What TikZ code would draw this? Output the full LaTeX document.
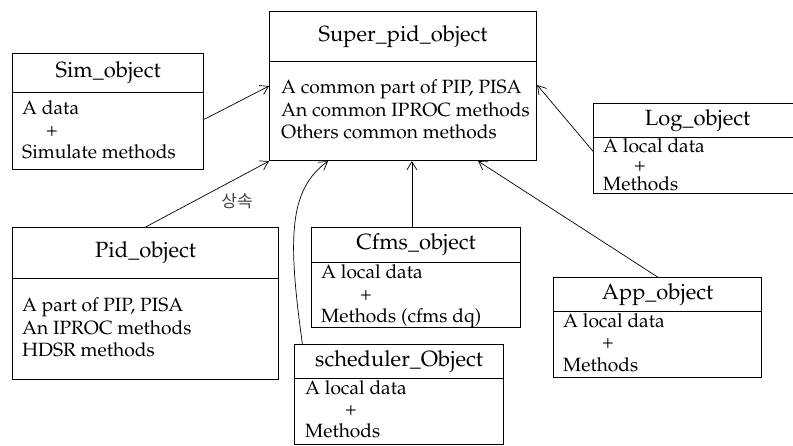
\documentclass[tikz,border=0pt]{standalone}
\usepackage{fontspec}
\newfontfamily\kor{Noto Sans CJK KR}
\usepackage[T1]{fontenc}
\usepackage{mathpazo}
\usetikzlibrary{arrows.meta,calc}
\begin{document}
\begin{tikzpicture}[x=1pt,y=-1pt,
  font=\fontsize{19.2}{22}\selectfont,
  boxpart/.style={draw,line width=1.2pt,rectangle,inner sep=0pt,anchor=north west},
  title/.style={boxpart,font=\fontsize{22}{24}\selectfont},
  line/.style={anchor=base west,inner sep=0pt},
  plus/.style={anchor=base,inner sep=0pt},
  conn/.style={line width=0.7pt,-{Straight Barb[length=8pt,width=10pt]}}]
\useasboundingbox (0,0) rectangle (793,446);
% Super
\node[title,minimum width=267pt,minimum height=50pt] (supert) at (269,11) {Super\_pid\_object};
\node[boxpart,minimum width=267pt,minimum height=99pt] (superb) at (269,61) {};
\node[line] (s1) at (281,94) {A common part of PIP, PISA};
\node[line] (s2) at (281,116.5) {An common IPROC methods};
\node[line] (s3) at (281,139) {Others common methods};
% Sim
\node[title,minimum width=191pt,minimum height=39pt] (simt) at (12,53) {Sim\_object};
\node[boxpart,minimum width=191pt,minimum height=77pt] (simb) at (12,92) {};
\node[line] (m1) at (22,115) {A data};
\node[plus] (m2) at (52,137) {+};
\node[line] (m3) at (22,159) {Simulate methods};
% Pid
\node[title,minimum width=266pt,minimum height=51pt] (pidt) at (12,227) {Pid\_object};
\node[boxpart,minimum width=266pt,minimum height=101pt] (pidb) at (12,278) {};
\node[line] (p1) at (22,312) {A part of PIP, PISA};
\node[line] (p2) at (22,334.5) {An IPROC methods};
\node[line] (p3) at (22,357) {HDSR methods};
% Cfms
\node[title,minimum width=209pt,minimum height=35pt] (cfmst) at (311,227) {Cfms\_object};
\node[boxpart,minimum width=209pt,minimum height=65pt] (cfmsb) at (311,262) {};
\node[line] (c1) at (321,279) {A local data};
\node[plus] (c2) at (366,301) {+};
\node[line] (c3) at (321,323) {Methods (cfms dq)};
% scheduler
\node[title,minimum width=209pt,minimum height=34pt] (schedt) at (294,344) {scheduler\_Object};
\node[boxpart,minimum width=209pt,minimum height=66pt] (schedb) at (294,378) {};
\node[line] (h1) at (305,395) {A local data};
\node[plus] (h2) at (351,416) {+};
\node[line] (h3) at (305,438) {Methods};
% Log
\node[title,minimum width=202pt,minimum height=34pt] (logt) at (593,103) {\hspace*{6pt}Log\_object};
\node[boxpart,minimum width=202pt,minimum height=56pt] (logb) at (593,137) {};
\node[line] (l1) at (603,153) {A local data};
\node[plus] (l2) at (640,172) {+};
\node[line] (l3) at (603,191) {Methods};
% App
\node[title,minimum width=208pt,minimum height=34pt] (appt) at (553,277) {App\_object};
\node[boxpart,minimum width=208pt,minimum height=66pt] (appb) at (553,311) {};
\node[line] (a1) at (563,328) {A local data};
\node[plus] (a2) at (608,349) {+};
\node[line] (a3) at (563,372) {Methods};
% label
\node[inner sep=0pt,text=black!75] (inh) at (237,201) {\kor\fontsize{17}{19}\selectfont 상속};
% connectors
\draw[conn] ($(simb.north east)!0.35!(simb.south east)$) -- ($(superb.north west)!0.25!(superb.south west)$);
\draw[conn] (pidt.north) -- (superb.south west);
\draw[conn] ($(cfmst.north west)!0.48!(cfmst.north east)$) coordinate (cf) -- (cf |- superb.south);
\draw[conn] ($(schedt.north west)!0.04!(schedt.north east)$) .. controls (288,240) and (288,190) .. ($(superb.south west)!0.22!(superb.south east)$);
\draw[conn] ($(logb.north west)!0.25!(logb.south west)$) -- ($(superb.north east)!0.24!(superb.south east)$);
\draw[conn] (appt.north) -- ($(superb.south west)!0.78!(superb.south east)$);
\end{tikzpicture}
\end{document}
